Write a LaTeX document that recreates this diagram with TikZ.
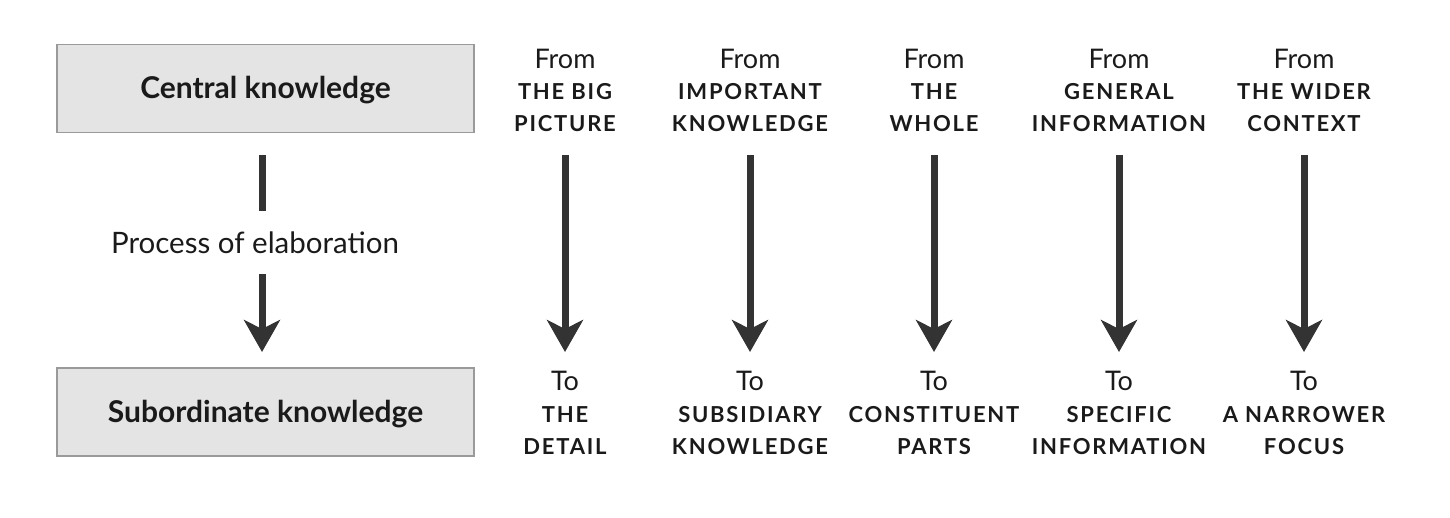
\documentclass[tikz,border=0pt]{standalone}
\usepackage{fontspec}
\setmainfont{Lato}
\newfontfamily\capsfont{Lato}[LetterSpace=8]
\usetikzlibrary{arrows.meta}
\definecolor{boxfill}{HTML}{E4E4E4}
\definecolor{boxline}{HTML}{9A9A9A}
\definecolor{ink}{HTML}{333333}
\definecolor{txt}{HTML}{1A1A1A}
\begin{document}
\begin{tikzpicture}[x=1pt,y=-1pt,
  kbox/.style={draw=boxline,line width=1.5pt,fill=boxfill,minimum width=417pt,minimum height=88pt,inner sep=0pt,text height=21pt,text depth=0pt,text=txt,font=\bfseries\fontsize{30}{32}\selectfont},
  fromto/.style={text=txt,font=\fontsize{27}{30}\selectfont,inner sep=0pt},
  caps/.style={text=txt,align=center,inner sep=0pt,font=\capsfont\bfseries\fontsize{22}{31.5}\selectfont},
  proc/.style={text=txt,inner sep=0pt,font=\fontsize{29.5}{32}\selectfont},
  arr/.style={draw=ink,line width=7pt,-{Stealth[length=32pt,width=36pt,inset=9pt]}},
  seg/.style={draw=ink,line width=7pt}]
\useasboundingbox (0,0) rectangle (1450,518);
\node[kbox] (central) at (265.5,88.5) {Central knowledge};
\node[kbox] (subord) at (265.5,412) {Subordinate knowledge};
\coordinate (l1) at (262,155);
\coordinate (l2) at (262,211);
\node[proc] (process) at (255,243) {Process of elaboration};
\coordinate (l3) at (262,274);
\coordinate (l4) at (262,352);
\draw[seg] (l1) -- (l2);
\draw[arr] (l3) -- (l4);
\foreach \i/\x/\ta/\tb/\ba/\bb in {
  1/565/THE BIG/PICTURE/THE/DETAIL,
  2/750/IMPORTANT/KNOWLEDGE/SUBSIDIARY/KNOWLEDGE,
  3/934/THE/WHOLE/CONSTITUENT/PARTS,
  4/1119/GENERAL/INFORMATION/SPECIFIC/INFORMATION,
  5/1304/THE WIDER/CONTEXT/A NARROWER/FOCUS}{
  \node[fromto] (from\i) at (\x,59) {From};
  \node[caps] (src\i) at (\x,107.5) {\ta\\\tb};
  \coordinate (as\i) at (\x,155);
  \coordinate (ae\i) at (\x,352);
  \draw[arr] (as\i) -- (ae\i);
  \node[fromto] (to\i) at (\x,381) {To};
  \node[caps] (dst\i) at (\x,430.5) {\ba\\\bb};
}
\end{tikzpicture}
\end{document}
